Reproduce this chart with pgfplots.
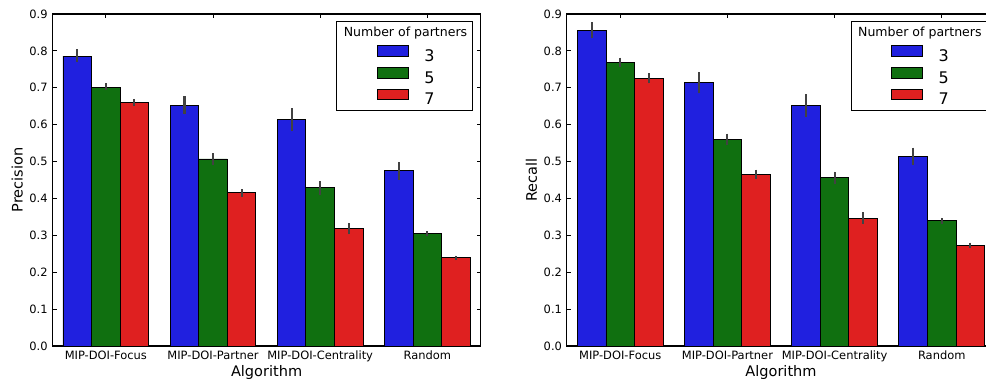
\documentclass[border=0pt]{standalone}
\usepackage{fontspec}
\setmainfont{DejaVu Sans}
\usepackage{pgfplots}
\usepackage{pgfplotstable}
\pgfplotsset{compat=1.18}
\definecolor{cb}{RGB}{32,32,223}
\definecolor{cg}{RGB}{16,112,16}
\definecolor{cr}{RGB}{223,32,32}
\definecolor{eb}{RGB}{66,66,66}

% x3/x5/x7: bar centres of the three series within each group
\pgfplotstableread{
x3 x5 x7 v3 p3 m3 v5 p5 m5 v7 p7 m7
-0.2667 0 0.2667 0.786 0.019 0.017 0.702 0.010 0.008 0.660 0.010 0.010
0.7333 1 1.2667 0.652 0.025 0.024 0.507 0.015 0.015 0.416 0.009 0.011
1.7333 2 2.2667 0.613 0.032 0.030 0.429 0.018 0.019 0.319 0.015 0.016
2.7333 3 3.2667 0.476 0.023 0.025 0.305 0.007 0.007 0.240 0.005 0.007
}\precdata

\pgfplotstableread{
x3 x5 x7 v3 p3 m3 v5 p5 m5 v7 p7 m7
-0.2667 0 0.2667 0.856 0.021 0.022 0.769 0.013 0.012 0.726 0.014 0.014
0.7333 1 1.2667 0.715 0.028 0.030 0.560 0.016 0.015 0.465 0.013 0.012
1.7333 2 2.2667 0.651 0.032 0.031 0.456 0.017 0.016 0.346 0.016 0.015
2.7333 3 3.2667 0.514 0.024 0.022 0.340 0.007 0.008 0.273 0.007 0.008
}\recdata

\pgfplotsset{
  panel/.style={
    scale only axis, width=321.5pt, height=249pt,
    xmin=-0.5, xmax=3.5, ymin=0, ymax=0.9,
    ytick={0,0.1,0.2,0.3,0.4,0.5,0.6,0.7,0.8,0.9},
    /pgf/number format/.cd, fixed, fixed zerofill, precision=1, assume math mode=true, /pgfplots/.cd,
    xtick={0,1,2,3},
    xticklabels={MIP-DOI-Focus,MIP-DOI-Partner,MIP-DOI-Centrality,Random},
    tick align=inside, major tick length=3.3pt,
    tick style={black, line width=0.75pt},
    axis line style={line width=0.8pt},
    ticklabel style={font=\fontsize{8.6}{10}\selectfont},
    label style={font=\fontsize{10.9}{13}\selectfont},
    xlabel=Algorithm,
    xlabel style={at={(axis description cs:0.5,-0.081)}, anchor=center},
    ylabel style={at={(axis description cs:-0.082,0.5)}, anchor=center},
    legend style={at={(axis description cs:0.824,0.813)}, anchor=center,
      draw=none, fill=none, font=\fontsize{12}{12}\selectfont,
      column sep=12pt, row sep=2.5pt, nodes={inner sep=0pt}},
    legend image code/.code={\draw[#1,draw=black,line width=0.6pt] (0pt,0.3pt) rectangle (23.25pt,8.3pt);},
  },
  barset/.style={ybar, bar width=0.2667, bar shift=0pt, draw=black, line width=0.6pt,
    error bars/.cd, y dir=both, y explicit, error mark=none,
    error bar style={color=eb, line width=1.6pt}},
}

\begin{document}
\begin{tikzpicture}
\begin{axis}[panel, at={(39.2pt,26.25pt)}, anchor=south west, ylabel=Precision]
\addplot[fill=cb, barset] table[x=x3,y=v3,y error plus=p3,y error minus=m3]{\precdata};
\addlegendentry{3}
\addplot[fill=cg, barset] table[x=x5,y=v5,y error plus=p5,y error minus=m5]{\precdata};
\addlegendentry{5}
\addplot[fill=cr, barset] table[x=x7,y=v7,y error plus=p7,y error minus=m7]{\precdata};
\addlegendentry{7}
\draw[black, line width=0.75pt] (axis description cs:0.664,0.708) rectangle (axis description cs:0.981,0.977);
\node[font=\fontsize{9.4}{11}\selectfont] at (axis description cs:0.824,0.943) {Number of partners};
\end{axis}
\begin{axis}[panel, at={(425pt,26.25pt)}, anchor=south west, ylabel=Recall]
\addplot[fill=cb, barset] table[x=x3,y=v3,y error plus=p3,y error minus=m3]{\recdata};
\addlegendentry{3}
\addplot[fill=cg, barset] table[x=x5,y=v5,y error plus=p5,y error minus=m5]{\recdata};
\addlegendentry{5}
\addplot[fill=cr, barset] table[x=x7,y=v7,y error plus=p7,y error minus=m7]{\recdata};
\addlegendentry{7}
\draw[black, line width=0.75pt] (axis description cs:0.664,0.708) rectangle (axis description cs:0.981,0.977);
\node[font=\fontsize{9.4}{11}\selectfont] at (axis description cs:0.824,0.943) {Number of partners};
\end{axis}
\pgfresetboundingbox
\useasboundingbox (0,0) rectangle (739.5pt,285.75pt);
\end{tikzpicture}
\end{document}
